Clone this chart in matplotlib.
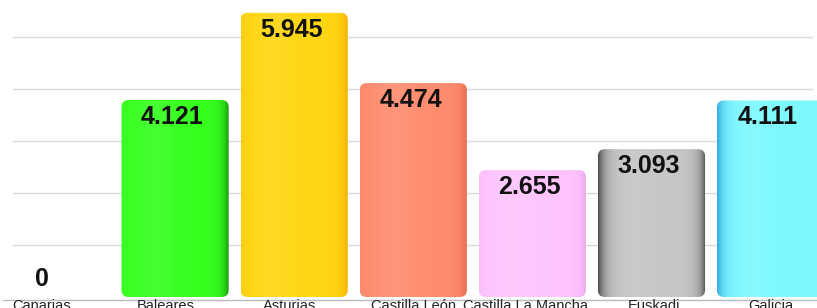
import numpy as np
import matplotlib
matplotlib.use("Agg")
import matplotlib.pyplot as plt
from matplotlib.patches import FancyBboxPatch
from matplotlib.colors import to_rgb

categories = ["Canarias", "Baleares", "Asturias", "Castilla León",
              "Castilla La Mancha", "Euskadi", "Galicia"]
values = [0, 4.121, 5.945, 4.474, 2.655, 3.093, 4.111]
value_labels = ["0", "4.121", "5.945", "4.474", "2.655", "3.093", "4.111"]
base_colors = ["#36FF1F", "#36FF1F", "#FFD612", "#FF8C6E", "#FFC4FF", "#C6C6C6", "#7DF9FF"]
shadow_colors = ["#148A0A", "#148A0A", "#F09A00", "#D85A3C", "#D890D8", "#3A3A3A", "#2C9FE0"]
shade_left = [0.0, 0.0, 0.15, 0.1, 0.1, 0.9, 0.9]
shade_right = [0.9, 0.9, 0.8, 0.8, 0.6, 0.9, 0.0]
grid_step = 1.088

W, H, DPI = 817, 308, 100
fig = plt.figure(figsize=(W / DPI, H / DPI), dpi=DPI)
ax = fig.add_axes([0, 0, 1, 1])
ax.set_xlim(-0.47, 6.39)
ax.set_ylim(-0.23, 6.213)
ax.axis("off")

# gridlines
for k in range(1, 6):
    ax.axhline(k * grid_step, xmin=0.016, xmax=0.994, color="#DADADA", lw=1, zorder=0)
ax.axhline(-0.063, xmin=0.004, xmax=1.0, color="#BBBBBB", lw=1, zorder=0)

x = np.arange(len(categories))
width = 0.9
bars = ax.bar(x, values, width=width, color="none", edgecolor="none", zorder=2)

u = np.linspace(0, 1, 200)
for i, b in enumerate(bars):
    h = b.get_height()
    if h <= 0:
        continue
    x0, w = b.get_x(), b.get_width()
    base = np.array(to_rgb(base_colors[i]))
    shad = np.array(to_rgb(shadow_colors[i]))
    t = shade_right[i] * np.exp(-(1 - u) / 0.05) + shade_left[i] * np.exp(-u / 0.06)
    t = np.clip(t, 0, 1)[:, None]
    hl = 0.08 * np.exp(-((u - 0.3) / 0.2) ** 2)[:, None]
    row = base * (1 - t) + shad * t
    row = np.clip(row + hl * (1 - row), 0, 1)
    img = np.repeat(row[None, :, :], 2, axis=0)
    im = ax.imshow(img, extent=[x0, x0 + w, 0, h], aspect="auto",
                   interpolation="bilinear", zorder=2)
    clip = FancyBboxPatch((x0, 0), w, h,
                          boxstyle="round,pad=0,rounding_size=0.06",
                          mutation_aspect=2.45, transform=ax.transData,
                          facecolor="none", edgecolor="none")
    ax.add_patch(clip)
    im.set_clip_path(clip)

for i, b in enumerate(bars):
    h = b.get_height()
    cx = b.get_x() + b.get_width() / 2
    if h > 0:
        ax.annotate(value_labels[i], (cx, h), xytext=(-2, -3.5), textcoords="offset points",
                    ha="center", va="top", fontsize=18, fontweight="bold",
                    family="Liberation Sans", color="#111111", zorder=4)
    else:
        ax.annotate(value_labels[i], (cx - 0.12, h), xytext=(0, 4), textcoords="offset points",
                    ha="center", va="bottom", fontsize=18, fontweight="bold",
                    family="Liberation Sans", color="#111111", zorder=4)

label_dx = [-0.12, -0.08, -0.04, 0.0, -0.06, 0.02, 0.0]
for i, c in enumerate(categories):
    ax.text(x[i] + label_dx[i], -0.04, c, ha="center", va="top", fontsize=10.5,
            family="Liberation Sans", color="#222222", zorder=1)

fig.savefig("out.png", dpi=DPI)
